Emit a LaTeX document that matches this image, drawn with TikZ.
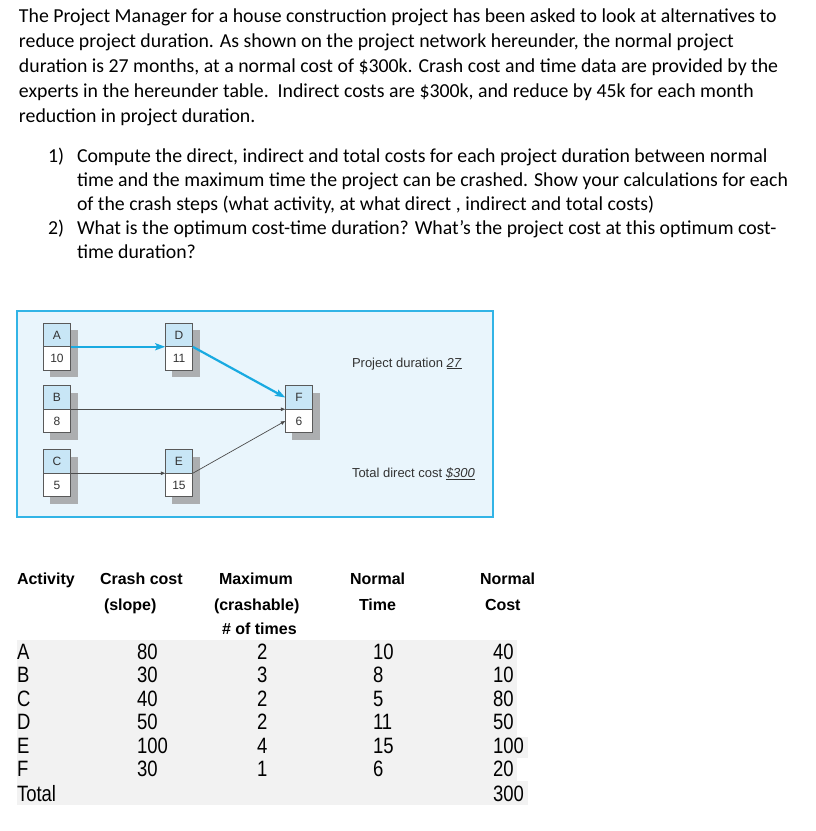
\documentclass[tikz,border=0pt]{standalone}
\usepackage{fontspec}
\usepackage{graphicx}
\setmainfont{Carlito}
\newfontfamily\arialfont{Liberation Sans}
\usetikzlibrary{positioning,arrows.meta,shadows,calc}

\definecolor{netback}{RGB}{233,245,252}
\definecolor{netframe}{RGB}{50,180,230}
\definecolor{labelblue}{RGB}{200,230,246}
\definecolor{critblue}{RGB}{25,170,225}
\definecolor{shadowgray}{RGB}{172,174,176}
\definecolor{rowgray}{RGB}{242,242,242}

% table entries are set a little taller than normal
\newcommand{\tallcell}[1]{\scalebox{1}[1.2]{#1}}

\begin{document}
\begin{tikzpicture}[
  x=1pt, y=-1pt,
  every node/.style={inner sep=0pt, outer sep=0pt},
  body/.style={anchor=base west, font=\fontsize{19.8}{25}\selectfont},
  actlbl/.style={rectangle, draw=black!65, line width=0.6pt, fill=labelblue,
                 minimum width=27.5pt, minimum height=23.5pt,
                 font=\arialfont\fontsize{12}{14}\selectfont, text=black!80,
                 drop shadow={shadow xshift=7pt, shadow yshift=-7pt,
                              fill=shadowgray, opacity=1}},
  actdur/.style={actlbl, fill=white},
  crit/.style={-{Stealth[length=10pt, width=7pt, inset=2pt]}, line width=2.2pt, draw=critblue},
  arr/.style={-{Triangle[length=4.5pt, width=3.5pt]}, line width=0.7pt, draw=black!70},
  note/.style={anchor=base west, font=\arialfont\fontsize{13}{15}\selectfont, text=black!80},
  head/.style={anchor=base west, font=\arialfont\bfseries\fontsize{16}{18}\selectfont},
  cell/.style={anchor=base west, font=\arialfont\fontsize{18.5}{20}\selectfont}
]
\useasboundingbox (0,0) rectangle (815,831);

% Problem statement
\node[body] (intro1) at (19,22)  {The Project Manager for a house construction project has been asked to look at alternatives to};
\node[body] (intro2) at (19,47)  {reduce project duration. As shown on the project network hereunder, the normal project};
\node[body] (intro3) at (19,72)  {duration is 27 months, at a normal cost of \$300k. Crash cost and time data are provided by the};
\node[body] (intro4) at (19,97)  {experts in the hereunder table.\ \ Indirect costs are \$300k, and reduce by 45k for each month};
\node[body] (intro5) at (19,122) {reduction in project duration.};

% Questions
\node[body] (qnum1) at (48,162) {1)};
\node[body] (q1a)   at (77,162) {Compute the direct, indirect and total costs for each project duration between normal};
\node[body] (q1b)   at (77,186) {time and the maximum time the project can be crashed. Show your calculations for each};
\node[body] (q1c)   at (77,210) {of the crash steps (what activity, at what direct , indirect and total costs)};
\node[body] (qnum2) at (48,234) {2)};
\node[body] (q2a)   at (77,234) {What is the optimum cost-time duration? What’s the project cost at this optimum cost-};
\node[body] (q2b)   at (77,258) {time duration?};

% Project network panel
\draw[netframe, line width=2pt, fill=netback] (17,311) rectangle (493,517);

% Activity boxes: label on top, duration below
\node[actlbl] (lblA) at (57,335)    {A};
\node[actdur, below=0pt of lblA] (durA) {10};
\node[actlbl] (lblD) at (179,335)   {D};
\node[actdur, below=0pt of lblD] (durD) {11};
\node[actlbl] (lblB) at (57,397.5)  {B};
\node[actdur, below=0pt of lblB] (durB) {8};
\node[actlbl] (lblF) at (299,397.5) {F};
\node[actdur, below=0pt of lblF] (durF) {6};
\node[actlbl] (lblC) at (57,461.5)  {C};
\node[actdur, below=0pt of lblC] (durC) {5};
\node[actlbl] (lblE) at (179,461.5) {E};
\node[actdur, below=0pt of lblE] (durE) {15};

% Critical path A-D-F
\draw[crit] (durA.north east) -- (durD.north west);
\draw[crit] (durD.north east) -- (lblF.west);
% Other dependencies
\draw[arr] (durB.north east) -- (durF.north west);
\draw[arr] (durC.north east) -- (durE.north west);
\draw[arr] (durE.north east) -- (durF.west);

\node[note] (duration) at (352,367) {Project duration \underline{\textit{27}}};
\node[note] (dircost)  at (352,477) {Total direct cost \underline{\textit{\$300}}};

% Crash data table
\fill[rowgray] (17,640) rectangle (517,804.5);
\fill[rowgray] (517,737) rectangle (528,757.5);
\fill[rowgray] (517,781) rectangle (528,804.5);

\node[head] (hAct)       at (17,584)  {Activity};
\node[head] (hCrash)     at (100,584) {Crash cost};
\node[head] (hSlope)     at (104,610) {(slope)};
\node[head] (hMax)       at (219,584) {Maximum};
\node[head] (hCrashable) at (214,610) {(crashable)};
\node[head] (hTimes)     at (222,634) {\# of times};
\node[head] (hNormT)     at (350,584) {Normal};
\node[head] (hTime)      at (359,610) {Time};
\node[head] (hNormC)     at (480,584) {Normal};
\node[head] (hCost)      at (485,610) {Cost};

\foreach \act/\slope/\nmax/\ntime/\ncost [count=\i from 0] in
    {A/80/2/10/40, B/30/3/8/10, C/40/2/5/80, D/50/2/11/50, E/100/4/15/100, F/30/1/6/20}{
  \node[cell] (row\act)   at (17,{659+23.5*\i})  {\tallcell{\act}};
  \node[cell] (slope\act) at (137,{659+23.5*\i}) {\tallcell{\slope}};
  \node[cell] (max\act)   at (257,{659+23.5*\i}) {\tallcell{\nmax}};
  \node[cell] (time\act)  at (373,{659+23.5*\i}) {\tallcell{\ntime}};
  \node[cell] (cost\act)  at (493,{659+23.5*\i}) {\tallcell{\ncost}};
}
\node[cell] (rowTotal)  at (17,801)  {\tallcell{Total}};
\node[cell] (costTotal) at (493,801) {\tallcell{300}};
\end{tikzpicture}
\end{document}
